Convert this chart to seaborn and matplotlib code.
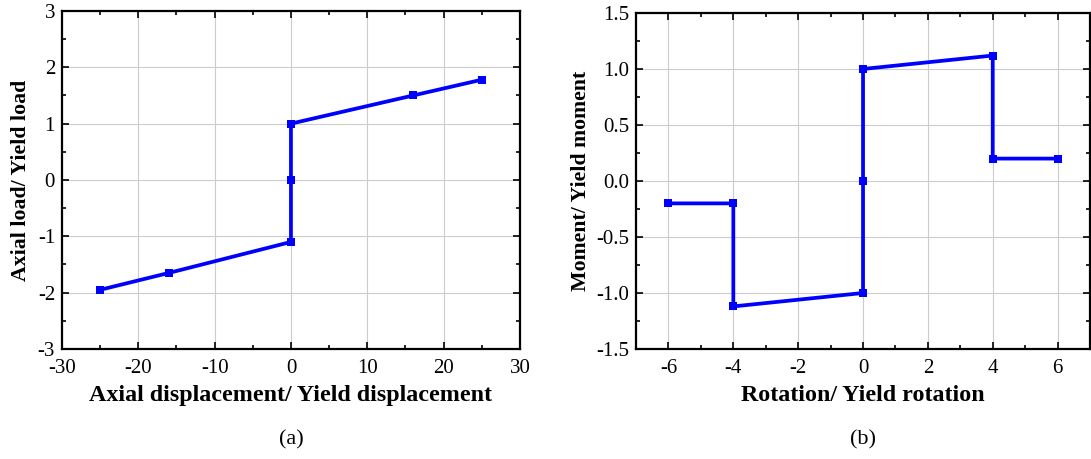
import numpy as np
import pandas as pd
import matplotlib
matplotlib.use('Agg')
import matplotlib.pyplot as plt
import seaborn as sns
from matplotlib.ticker import MultipleLocator

# Datos
disp_axial = [-25, -16, 0, 0, 0, 16, 25]
carga_axial = [-1.95, -1.65, -1.1, 0, 1.0, 1.5, 1.78]

rotacion = [-6, -4, -4, 0, 0, 0, 4, 4, 6]
momento = [-0.2, -0.2, -1.12, -1.0, 0, 1.0, 1.12, 0.2, 0.2]

sns.set_style('ticks')
plt.rcParams['font.family'] = ['Liberation Serif', 'DejaVu Serif']
plt.rcParams['axes.unicode_minus'] = False
plt.rcParams['text.color'] = 'black'
plt.rcParams['axes.labelcolor'] = 'black'
plt.rcParams['xtick.color'] = 'black'
plt.rcParams['ytick.color'] = 'black'

fig = plt.figure(figsize=(10.91, 4.59), dpi=100)
ax1 = fig.add_axes([0.0568, 0.2397, 0.4198, 0.7364])
ax2 = fig.add_axes([0.583, 0.2397, 0.4161, 0.732])

df1 = pd.DataFrame({'x': disp_axial, 'y': carga_axial})
df2 = pd.DataFrame({'x': rotacion, 'y': momento})

for ax, df in [(ax1, df1), (ax2, df2)]:
    sns.lineplot(data=df, x='x', y='y', ax=ax, sort=False, estimator=None,
                 color='#0000ff', linewidth=2.7, marker='s', markersize=6.2,
                 markeredgewidth=0, zorder=3)
    ax.grid(True, color='#cccccc', linewidth=0.8, zorder=0)
    ax.tick_params(which='both', direction='in', top=True, right=True,
                   labelsize=15, width=1.2, color='black', labelcolor='black')
    ax.tick_params(which='major', length=5)
    ax.tick_params(which='minor', length=3)
    ax.tick_params(axis='x', pad=7)
    ax.tick_params(axis='y', pad=5)
    for s in ax.spines.values():
        s.set_linewidth(1.6)
        s.set_color('black')
    ax.set_axisbelow(True)

ax1.set_xlim(-30, 30)
ax1.set_ylim(-3, 3)
ax1.xaxis.set_major_locator(MultipleLocator(10))
ax1.xaxis.set_minor_locator(MultipleLocator(5))
ax1.yaxis.set_major_locator(MultipleLocator(1))
ax1.yaxis.set_minor_locator(MultipleLocator(0.5))
ax1.set_xlabel('Axial displacement/ Yield displacement', fontsize=17.3, fontweight='bold', labelpad=5)
ax1.set_ylabel('Axial load/ Yield load', fontsize=15.7, fontweight='bold', labelpad=5)

ax2.set_xlim(-7, 7)
ax2.set_ylim(-1.5, 1.5)
ax2.xaxis.set_major_locator(MultipleLocator(2))
ax2.xaxis.set_minor_locator(MultipleLocator(1))
ax2.yaxis.set_major_locator(MultipleLocator(0.5))
ax2.yaxis.set_minor_locator(MultipleLocator(0.25))
ax2.yaxis.set_major_formatter(matplotlib.ticker.FormatStrFormatter('%.1f'))
ax2.set_xlabel('Rotation/ Yield rotation', fontsize=17.3, fontweight='bold', labelpad=5)
ax2.set_ylabel('Moment/ Yield moment', fontsize=15.7, fontweight='bold', labelpad=4)

fig.text(291 / 1091, 1 - 440 / 459, '(a)', fontsize=16, ha='center', va='center')
fig.text(863 / 1091, 1 - 440 / 459, '(b)', fontsize=16, ha='center', va='center')

fig.savefig('out.png', dpi=100)
